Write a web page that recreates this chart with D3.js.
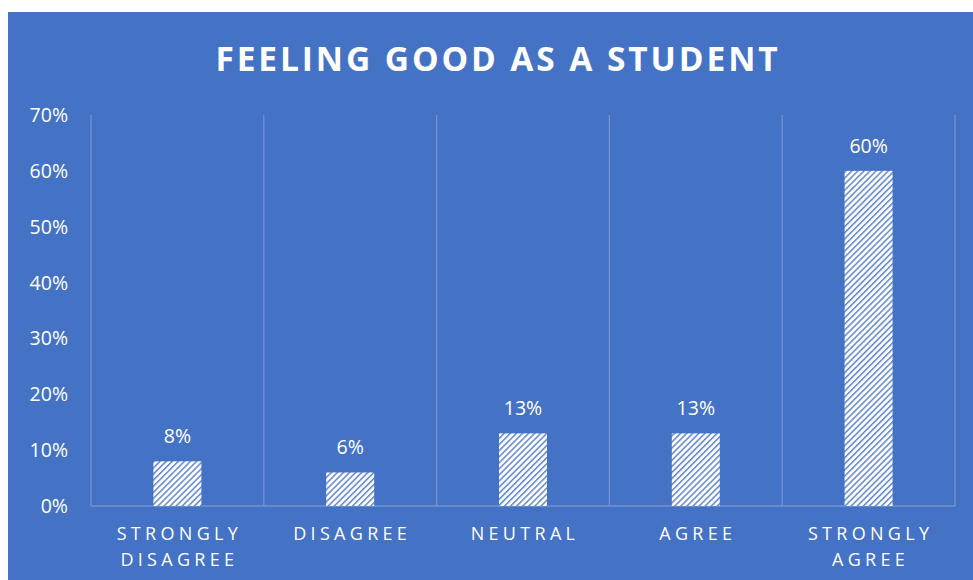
<!DOCTYPE html>
<html><head><meta charset="utf-8">
<script src="https://cdn.jsdelivr.net/npm/d3@7"></script>
<style>body{margin:0;background:#fff}svg{display:block}</style>
</head><body>
<script>
const categories = [["STRONGLY","DISAGREE"],["DISAGREE"],["NEUTRAL"],["AGREE"],["STRONGLY","AGREE"]];
const values = [0.08, 0.06, 0.13, 0.13, 0.60];
const valueLabels = ["8%","6%","13%","13%","60%"];
const yTicks = [0,0.1,0.2,0.3,0.4,0.5,0.6,0.7];
const title = "FEELING GOOD AS A STUDENT";

(function(){
const W=973,H=580, bg="#4472C4", grid="#7393D3";
const svg=d3.select("body").append("svg").attr("width",W).attr("height",H);
const defs=svg.append("defs");
const pat=defs.append("pattern").attr("id","hatch").attr("patternUnits","userSpaceOnUse")
  .attr("width",4.3).attr("height",4.3).attr("patternTransform","rotate(45)");
pat.append("rect").attr("width",4.3).attr("height",4.3).attr("fill","#fff");
pat.append("rect").attr("x",0).attr("y",0).attr("width",1.5).attr("height",4.3).attr("fill","#5F86CE");

svg.append("rect").attr("x",8).attr("y",12).attr("width",W-8).attr("height",H-12).attr("fill",bg);

svg.append("text").attr("x",498).attr("y",71).attr("text-anchor","middle")
  .attr("font-family","'Open Sans'").attr("font-weight","bold").attr("font-size",33.5)
  .attr("letter-spacing",2.9).attr("fill","#fff").text(title);

const pl=91,pr=955,pt=115,pb=506;
const x=d3.scaleBand().domain(d3.range(categories.length)).range([pl,pr]).paddingInner(0).paddingOuter(0);
const y=d3.scaleLinear().domain([0,0.7]).range([pb,pt]);

const bounds=d3.range(categories.length+1).map(i=>i<categories.length?x(i):x(categories.length-1)+x.bandwidth());
svg.append("g").selectAll("line").data(bounds).join("line")
  .attr("x1",d=>d).attr("x2",d=>d).attr("y1",pt).attr("y2",pb)
  .attr("stroke",grid).attr("stroke-width",1.3);
svg.append("line").attr("x1",pl).attr("x2",pr).attr("y1",pb).attr("y2",pb)
  .attr("stroke",grid).attr("stroke-width",1.3);

svg.append("g").selectAll("text").data(yTicks).join("text")
  .attr("x",68).attr("y",d=>y(d)+7).attr("text-anchor","end")
  .attr("font-family","'Open Sans'").attr("font-size",19.5).attr("fill","#fff")
  .text(d=>d3.format(".0%")(d));

const bw=48;
svg.append("g").selectAll("rect").data(values).join("rect")
  .attr("x",(d,i)=>x(i)+x.bandwidth()/2-bw/2).attr("width",bw)
  .attr("y",d=>y(d)).attr("height",d=>pb-y(d)).attr("fill","url(#hatch)");

svg.append("g").selectAll("text").data(values).join("text")
  .attr("x",(d,i)=>x(i)+x.bandwidth()/2).attr("y",d=>y(d)-18).attr("text-anchor","middle")
  .attr("font-family","'Open Sans'").attr("font-size",19.5).attr("fill","#fff")
  .text((d,i)=>valueLabels[i]);

const cg=svg.append("g");
categories.forEach((lines,i)=>{
  lines.forEach((ln,j)=>{
    cg.append("text").attr("x",x(i)+x.bandwidth()/2+2).attr("y",540+j*26).attr("text-anchor","middle")
      .attr("font-family","'Open Sans'").attr("font-size",18).attr("letter-spacing",4.3).attr("fill","#fff").text(ln);
  });
});
})();
</script>
</body></html>
